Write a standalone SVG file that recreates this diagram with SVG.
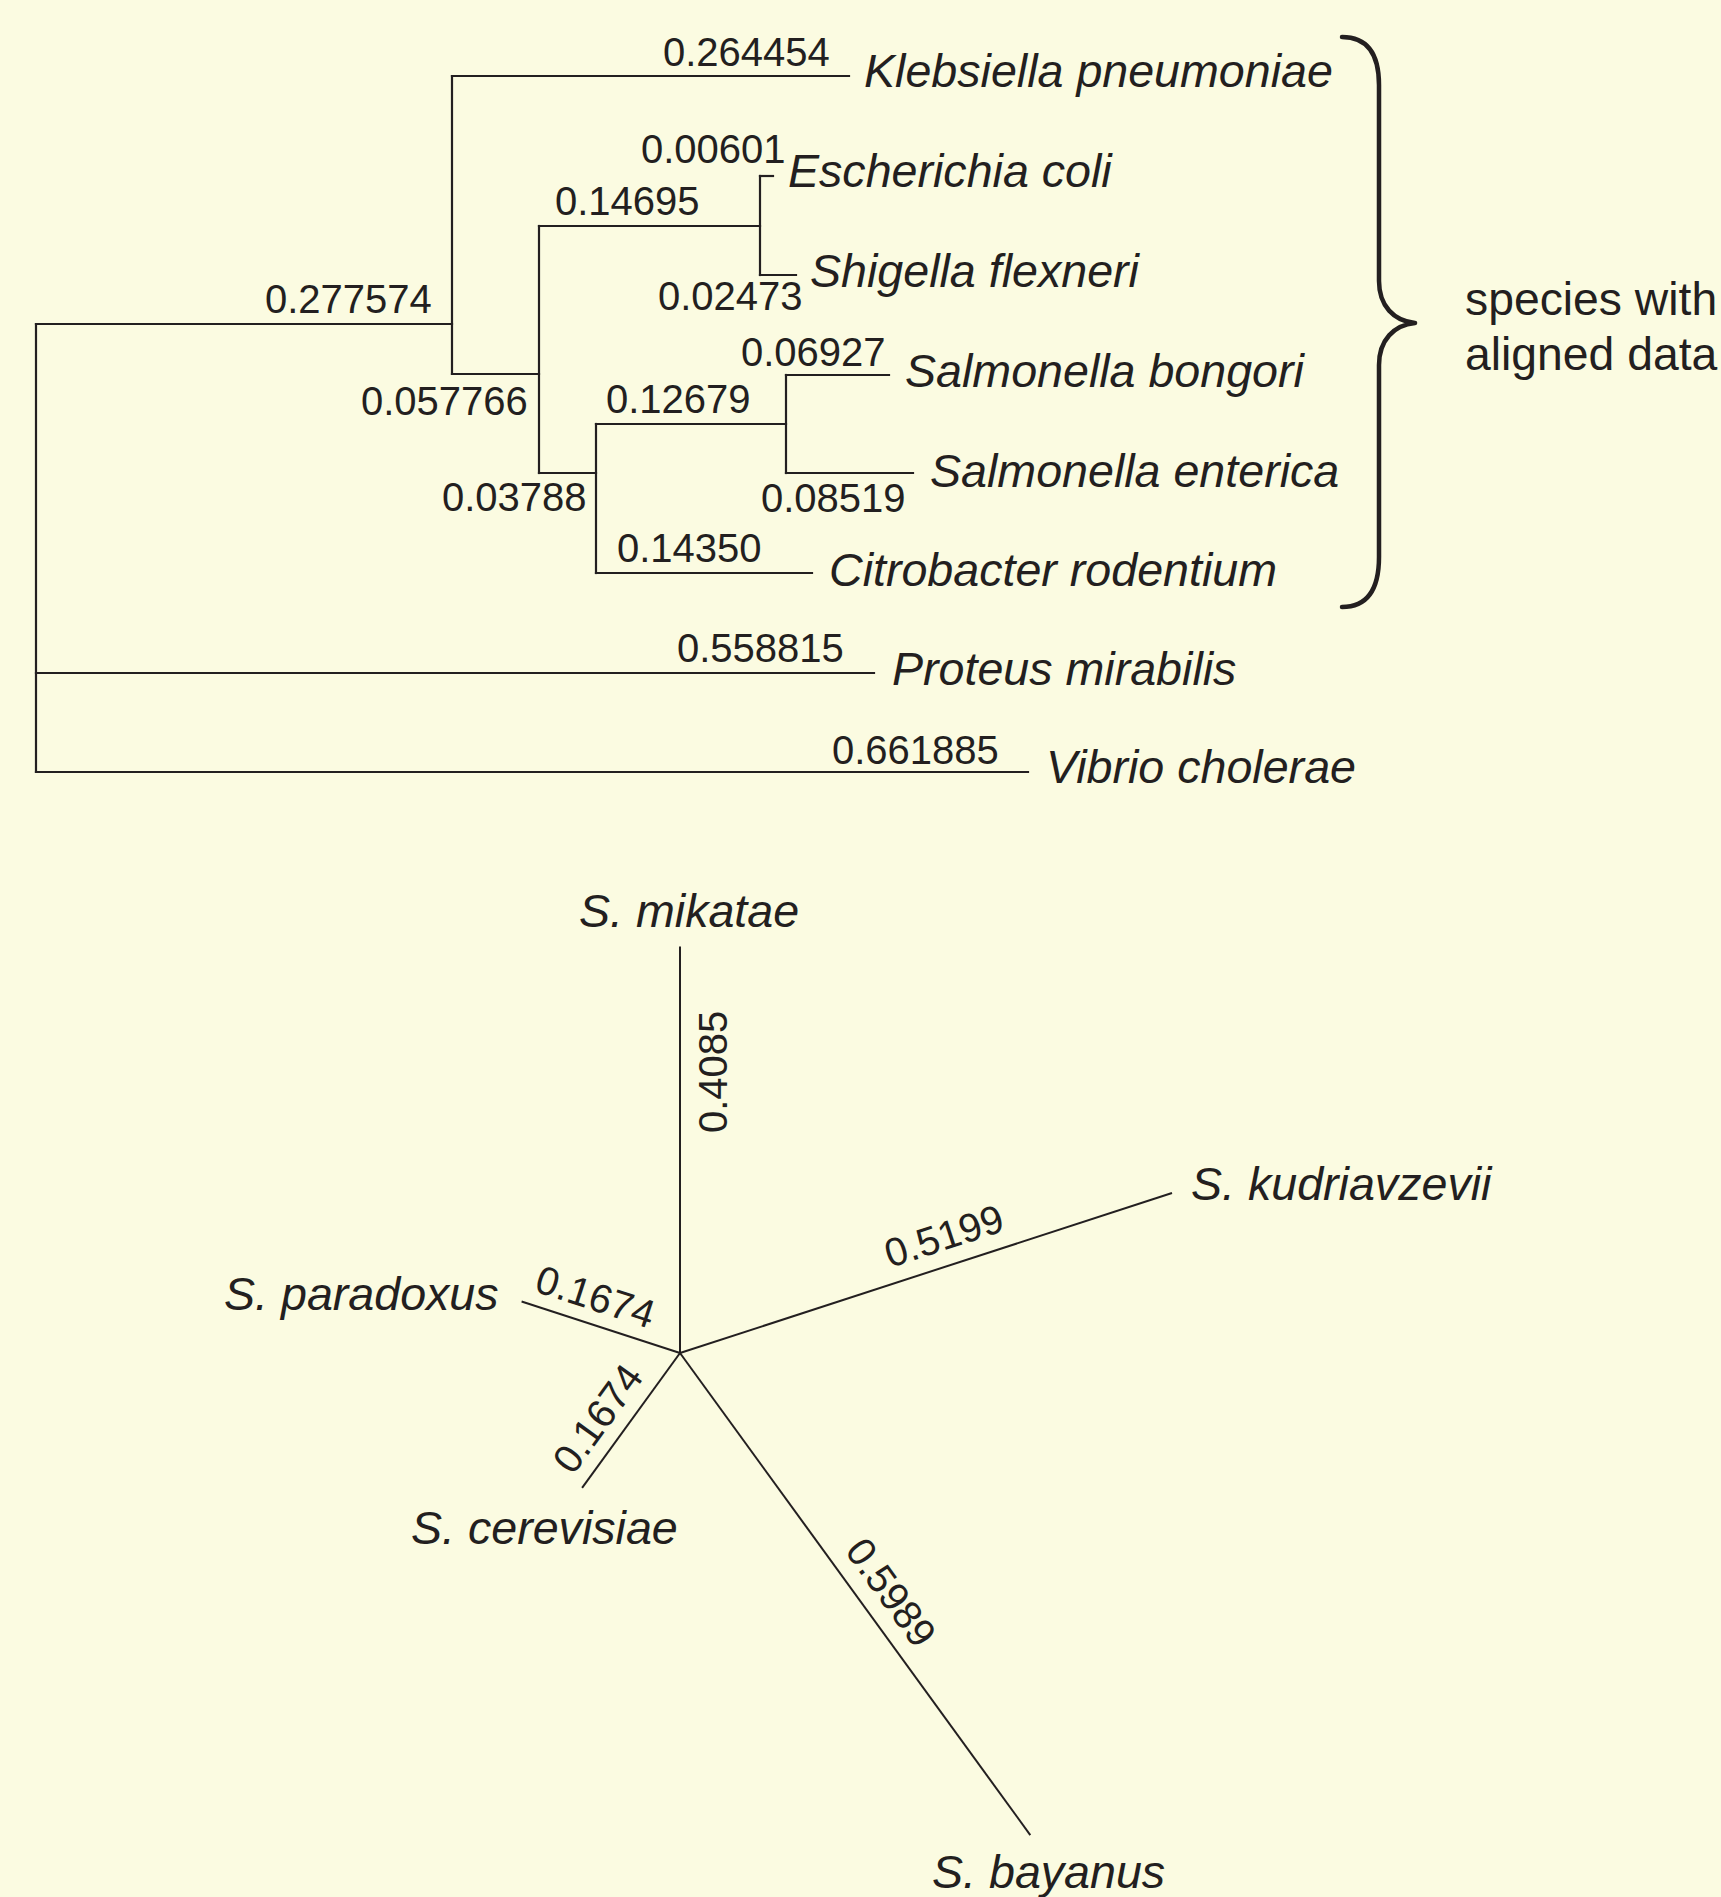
<svg xmlns="http://www.w3.org/2000/svg" width="1721" height="1897" viewBox="0 0 1721 1897">
<style>
  .bg { fill: #FBFBE1; }
  .br { stroke: #231F20; stroke-width: 2.2; fill: none; stroke-linecap: square; }
  .br2 { stroke: #231F20; stroke-width: 2; fill: none; }
  .num { font-family: "Liberation Sans", Arial, sans-serif; font-size: 40px; fill: #231F20; }
  .sp { font-family: "Liberation Sans", Arial, sans-serif; font-size: 46.6px; font-style: italic; fill: #231F20; }
  .note { font-family: "Liberation Sans", Arial, sans-serif; font-size: 46.3px; fill: #231F20; }
  .brace { stroke: #231F20; stroke-width: 4.5; fill: none; stroke-linecap: round; stroke-linejoin: round; }
</style>
<rect class="bg" x="0" y="0" width="1721" height="1897"/>

<g id="connectors">
  <g id="top-tree-branches">
    <path class="br" d="M36,324 V772"/>
    <path class="br" d="M36,324 H452"/>
    <path class="br" d="M452,76 V374"/>
    <path class="br" d="M452,76 H849"/>
    <path class="br" d="M452,374 H539"/>
    <path class="br" d="M539,226 V473"/>
    <path class="br" d="M539,226 H760"/>
    <path class="br" d="M760,176 V275"/>
    <path class="br" d="M760,176 H773"/>
    <path class="br" d="M760,275 H796"/>
    <path class="br" d="M539,473 H596"/>
    <path class="br" d="M596,424 V573"/>
    <path class="br" d="M596,424 H786"/>
    <path class="br" d="M786,375 V473"/>
    <path class="br" d="M786,375 H889"/>
    <path class="br" d="M786,473 H913"/>
    <path class="br" d="M596,573 H812"/>
    <path class="br" d="M36,673 H874"/>
    <path class="br" d="M36,772 H1028"/>
  </g>
  <g id="top-tree-lengths">
    <text class="num" x="663" y="66">0.264454</text>
    <text class="num" x="641" y="163">0.00601</text>
    <text class="num" x="555" y="215">0.14695</text>
    <text class="num" x="658" y="310">0.02473</text>
    <text class="num" x="265" y="313">0.277574</text>
    <text class="num" x="741" y="366">0.06927</text>
    <text class="num" x="361" y="415">0.057766</text>
    <text class="num" x="606" y="413">0.12679</text>
    <text class="num" x="442" y="511">0.03788</text>
    <text class="num" x="761" y="512">0.08519</text>
    <text class="num" x="617" y="562">0.14350</text>
    <text class="num" x="677" y="662">0.558815</text>
    <text class="num" x="832" y="764">0.661885</text>
  </g>
  <g id="bottom-tree-branches">
    <line class="br2" x1="680" y1="1353" x2="680" y2="946.5"/>
    <line class="br2" x1="680" y1="1353" x2="1172" y2="1193"/>
    <line class="br2" x1="680" y1="1353" x2="521.6" y2="1301.5"/>
    <line class="br2" x1="680" y1="1353" x2="582.1" y2="1487.8"/>
    <line class="br2" x1="680" y1="1353" x2="1030.3" y2="1835.1"/>
  </g>
  <g id="bottom-tree-lengths">
    <text class="num" transform="translate(727,1133) rotate(-90)">0.4085</text>
    <text class="num" transform="translate(890,1268) rotate(-18)">0.5199</text>
    <text class="num" transform="translate(533,1291) rotate(18)">0.1674</text>
    <text class="num" transform="translate(573,1476) rotate(-54)">0.1674</text>
    <text class="num" transform="translate(844,1551) rotate(54)">0.5989</text>
  </g>
</g>

<g id="node-klebsiella"><text class="sp" x="864" y="87">Klebsiella pneumoniae</text></g>
<g id="node-escherichia"><text class="sp" x="788" y="187">Escherichia coli</text></g>
<g id="node-shigella"><text class="sp" x="810" y="287">Shigella flexneri</text></g>
<g id="node-bongori"><text class="sp" x="905" y="387">Salmonella bongori</text></g>
<g id="node-enterica"><text class="sp" x="930" y="487">Salmonella enterica</text></g>
<g id="node-citrobacter"><text class="sp" x="829" y="586">Citrobacter rodentium</text></g>
<g id="node-proteus"><text class="sp" x="892" y="685">Proteus mirabilis</text></g>
<g id="node-vibrio"><text class="sp" x="1046" y="783">Vibrio cholerae</text></g>

<g id="brace-group">
  <path class="brace" d="M1342,37 C1368,37 1379,55 1379,85 L1379,281 C1379,306 1394,321 1415,323 C1394,325 1379,340 1379,365 L1379,557 C1379,589 1368,607 1342,607"/>
  <text class="note" x="1465" y="315">species with</text>
  <text class="note" x="1465" y="370">aligned data</text>
</g>

<g id="node-mikatae"><text class="sp" x="579" y="927">S. mikatae</text></g>
<g id="node-kudriavzevii"><text class="sp" x="1191" y="1200">S. kudriavzevii</text></g>
<g id="node-paradoxus"><text class="sp" x="224" y="1310">S. paradoxus</text></g>
<g id="node-cerevisiae"><text class="sp" x="411" y="1544">S. cerevisiae</text></g>
<g id="node-bayanus"><text class="sp" x="932" y="1888">S. bayanus</text></g>
</svg>
